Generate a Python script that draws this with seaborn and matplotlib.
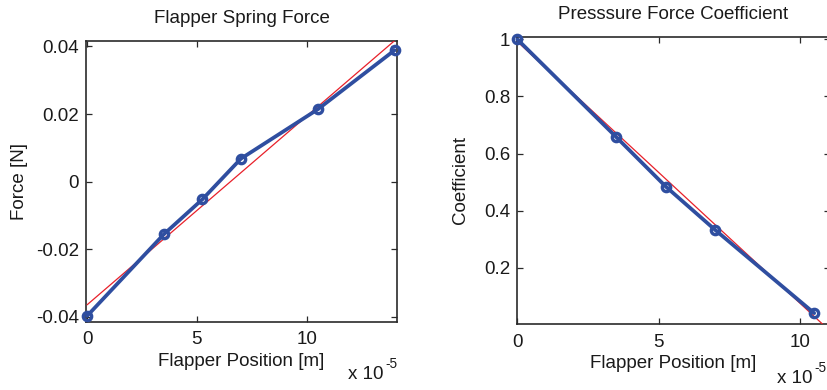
import numpy as np
import pandas as pd
import matplotlib
matplotlib.use("Agg")
import matplotlib.pyplot as plt
import seaborn as sns

# ---- data (x in units of 1e-5 m) ----
spring_x = [0, 3.5, 5.25, 7, 10.5, 14]
spring_force = [-0.0397, -0.0155, -0.0052, 0.0068, 0.0214, 0.0389]
spring_fit_x = [0, 14.12]
spring_fit_y = [-0.0364, 0.0424]

coef_x = [0, 3.5, 5.25, 7, 10.5]
coef_vals = [1.0, 0.658, 0.485, 0.333, 0.042]
coef_fit_x = [0, 11.0]
coef_fit_y = [0.992, -0.015]

left_xticks = [0, 5, 10]
left_yticks = [-0.04, -0.02, 0, 0.02, 0.04]
left_yticklabels = ["-0.04", "-0.02", "0", "0.02", "0.04"]
right_xticks = [0, 5, 10]
right_yticks = [0.2, 0.4, 0.6, 0.8, 1.0]
right_yticklabels = ["0.2", "0.4", "0.6", "0.8", "1"]

sns.set_style("ticks")
plt.rcParams["font.family"] = ["Liberation Sans", "DejaVu Sans"]

BLUE = "#2f4ea0"
RED = "#e8202a"
SPINE = "#2a2a2a"
TXT = "#1a1a1a"
FS = 13.5

W, H = 828, 390
fig = plt.figure(figsize=(W / 100, H / 100), dpi=100)

def px_ax(l, t, r, b):
    return fig.add_axes([l / W, 1 - b / H, (r - l) / W, (b - t) / H])

ax1 = px_ax(86, 40.7, 397.3, 321.7)
ax2 = px_ax(517, 36.7, 830, 324.3)

df1 = pd.DataFrame({"x": spring_x, "y": spring_force})
df1f = pd.DataFrame({"x": spring_fit_x, "y": spring_fit_y})
df2 = pd.DataFrame({"x": coef_x, "y": coef_vals})
df2f = pd.DataFrame({"x": coef_fit_x, "y": coef_fit_y})

for ax, d, df_fit in [(ax1, df1, df1f), (ax2, df2, df2f)]:
    sns.lineplot(data=df_fit, x="x", y="y", ax=ax, color=RED, lw=0.9,
                 zorder=3, estimator=None, sort=False)
    sns.lineplot(data=d, x="x", y="y", ax=ax, color=BLUE, lw=2.7,
                 marker="o", markersize=6, markerfacecolor="none",
                 markeredgecolor=BLUE, markeredgewidth=2.4,
                 zorder=4, estimator=None, sort=False)
    ax.lines[-1].set_clip_on(False)
    for s in ax.spines.values():
        s.set_visible(True)
        s.set_color(SPINE)
        s.set_linewidth(1.2)
    ax.tick_params(direction="in", top=True, right=True, length=4,
                   width=0.9, color=SPINE, labelsize=FS, labelcolor=TXT)
    ax.tick_params(axis="x", pad=7)
    ax.tick_params(axis="y", pad=5)
    ax.set_facecolor("white")

ax1.set_xlim(-0.05, 14.12)
ax1.set_ylim(-0.0414, 0.0417)
ax1.set_xticks(left_xticks)
ax1.set_xticklabels([str(v) for v in left_xticks])
ax1.set_yticks(left_yticks)
ax1.set_yticklabels(left_yticklabels)
ax1.set_title("Flapper Spring Force", fontsize=FS, color=TXT, pad=13)
ax1.set_xlabel("Flapper Position [m]", fontsize=FS, color=TXT, labelpad=3)
ax1.set_ylabel("Force [N]", fontsize=FS, color=TXT, labelpad=6)

ax2.set_xlim(-0.01, 11.06)
ax2.set_ylim(0.003, 1.009)
ax2.set_xticks(right_xticks)
ax2.set_xticklabels([str(v) for v in right_xticks])
ax2.set_yticks(right_yticks)
ax2.set_yticklabels(right_yticklabels)
ax2.set_title("Presssure Force Coefficient", fontsize=FS, color=TXT, pad=13)
ax2.set_xlabel("Flapper Position [m]", fontsize=FS, color=TXT, labelpad=3)
ax2.set_ylabel("Coefficient", fontsize=FS, color=TXT, labelpad=11)

for (bx, by) in [(348, 379), (777, 383)]:
    fig.text(bx / W, 1 - by / H, "x 10", fontsize=FS, color=TXT,
             ha="left", va="baseline")
    fig.text((bx + 37) / W, 1 - (by - 11) / H, "-5", fontsize=FS * 0.72,
             color=TXT, ha="left", va="baseline")

fig.savefig("out.png", dpi=100, facecolor="white")
